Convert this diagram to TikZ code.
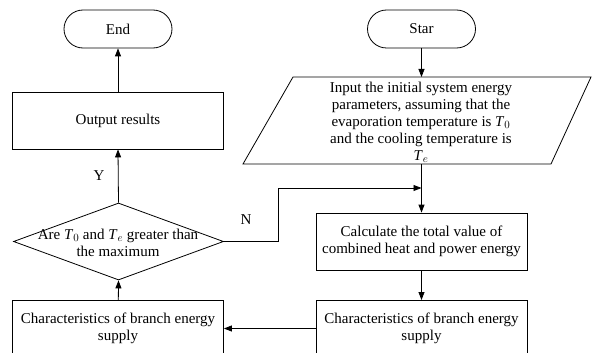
\documentclass[tikz,border=0pt]{standalone}
\usepackage{fontspec}
\setmainfont{Liberation Serif}
\usetikzlibrary{shapes.geometric,arrows.meta}
\begin{document}
\begin{tikzpicture}[x=1pt,y=-1pt, line width=0.8pt,
  every node/.style={font=\fontsize{15}{17}\selectfont},
  box/.style={draw, rectangle, minimum width=211pt, minimum height=57pt, inner sep=0pt, align=center},
  term/.style={draw, rectangle, rounded corners=19pt, minimum width=108pt, minimum height=38pt, inner sep=0pt},
  txt/.style={align=center, inner sep=0pt},
  arr/.style={-{Triangle[length=8pt,width=6pt]}}]
\useasboundingbox (0,0) rectangle (592,353);
\clip (0,0) rectangle (592,353);
% left column
\node[term] (end) at (118,29) {End};
\node[box] (out) at (118,120.5) {Output results};
\node[diamond, draw, minimum width=210pt, minimum height=77pt, inner sep=0pt] (dec) at (118.5,241.5) {};
\node[txt] (dect) at (118,243) {Are \textit{T}$_0$ and \textit{T}$_e$ greater than\\the maximum};
\node[box, minimum height=70pt, anchor=north] (bl) at (118,300) {};
\node[txt] (blt) at (118,328.5) {Characteristics of branch energy\\supply};
% right column
\node[term] (star) at (421.5,29) {Star};
\draw (243,164) -- (293,77) -- (591,77) -- (551,164) -- cycle;
\coordinate (inpN) at (421.5,77);
\coordinate (inpS) at (421.5,164);
\node[txt] (inpt) at (421,122) {Input the initial system energy\\parameters, assuming that the\\evaporation temperature is \textit{T}$_0$\\and the cooling temperature is\\\textit{T}$_e$};
\node[box] (calc) at (421.5,241.5) {Calculate the total value of\\combined heat and power energy};
\node[box, minimum height=70pt, anchor=north] (br) at (421.5,300) {};
\node[txt] (brt) at (421.5,328.5) {Characteristics of branch energy\\supply};
\coordinate (nj) at (421.5,188);
% connectors
\draw[arr] (star.south) -- (inpN);
\draw[arr] (inpS) -- (calc.north);
\draw[arr] (calc) -- (br);
\draw[arr] (br.west |- brt) -- (bl.east |- brt);
\draw[arr] (bl) -- (dec.south);
\draw[arr] (dec.north) -- (out.south) node[midway, left, xshift=-10pt] (ylab) {Y};
\draw[arr] (out) -- (end);
\draw[arr] (dec.east) -- ++(54,0) |- (nj);
\node (nlab) at (246,220) {N};
\end{tikzpicture}
\end{document}
